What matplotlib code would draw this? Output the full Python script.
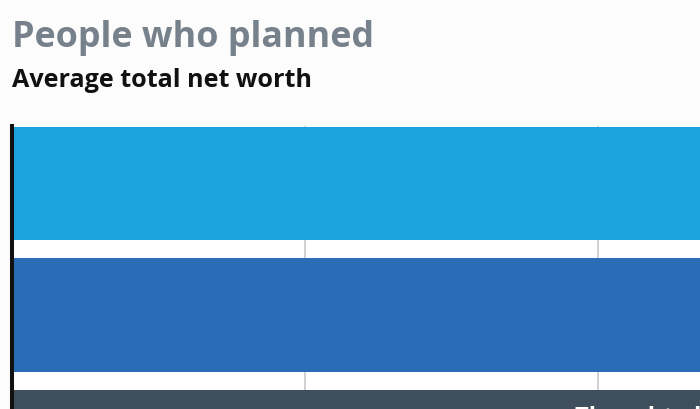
import matplotlib
matplotlib.use("Agg")
import matplotlib.pyplot as plt

# data
categories = ["Planned (group A)", "Planned (group B)", "Thought about planning"]
values = [3.2, 3.0, 2.8]          # in units of gridline steps (values exceed visible range)
colors = ["#1AA3DC", "#2B6CB7", "#3F4E5C"]
grid_ticks = [0, 1, 2]
bottom_label = "Thought about planning"

W, H = 700, 409
fig = plt.figure(figsize=(W / 100, H / 100), dpi=100)
fig.patch.set_facecolor("#FCFCFD")

# axes placement (pixels)
ax_left, ax_top, ax_bottom = 12, 126, 409
ax = fig.add_axes([ax_left / W, 1 - ax_bottom / H, (W - ax_left) / W, (ax_bottom - ax_top) / H])
ax.set_facecolor("#FFFFFF")

pitch = 131.0
bar_h = 113.0 / pitch
ypos = list(range(len(categories)))
ax.barh(ypos, values, height=bar_h, color=colors, zorder=2)

ax.set_xlim(0, (W - ax_left) / 293.0)
top_lim = 0 - (183.5 - ax_top) / pitch
bot_lim = 2 + (ax_bottom - 446.5) / pitch
ax.set_ylim(bot_lim, top_lim)

ax.set_xticks(grid_ticks)
ax.xaxis.grid(True, color="#CDCDCD", linewidth=1.3, zorder=1)
ax.tick_params(left=False, bottom=False, labelleft=False, labelbottom=False)
for s in ["top", "right", "bottom"]:
    ax.spines[s].set_visible(False)
ax.spines["left"].set_linewidth(2.9)
ax.spines["left"].set_color("#111111")
ax.spines["left"].set_zorder(3)

# partially visible label inside the bottom bar (cut off in the reference too)
ax.text(1.92, 2 - bar_h / 2 + 16.5 / pitch, bottom_label, color="white", fontsize=17,
        fontweight="bold", family="Open Sans", va="top", ha="left", zorder=4, clip_on=True)

fig.text(12 / W, 1 - 47 / H, "People who planned", fontsize=25.8, fontweight="bold",
         family="Open Sans", color="#77818B", va="baseline", ha="left")
fig.text(12 / W, 1 - 87 / H, "Average total net worth", fontsize=18.1, fontweight="bold",
         family="Open Sans", color="#111111", va="baseline", ha="left")

fig.savefig("out.png", dpi=100, facecolor=fig.get_facecolor())
